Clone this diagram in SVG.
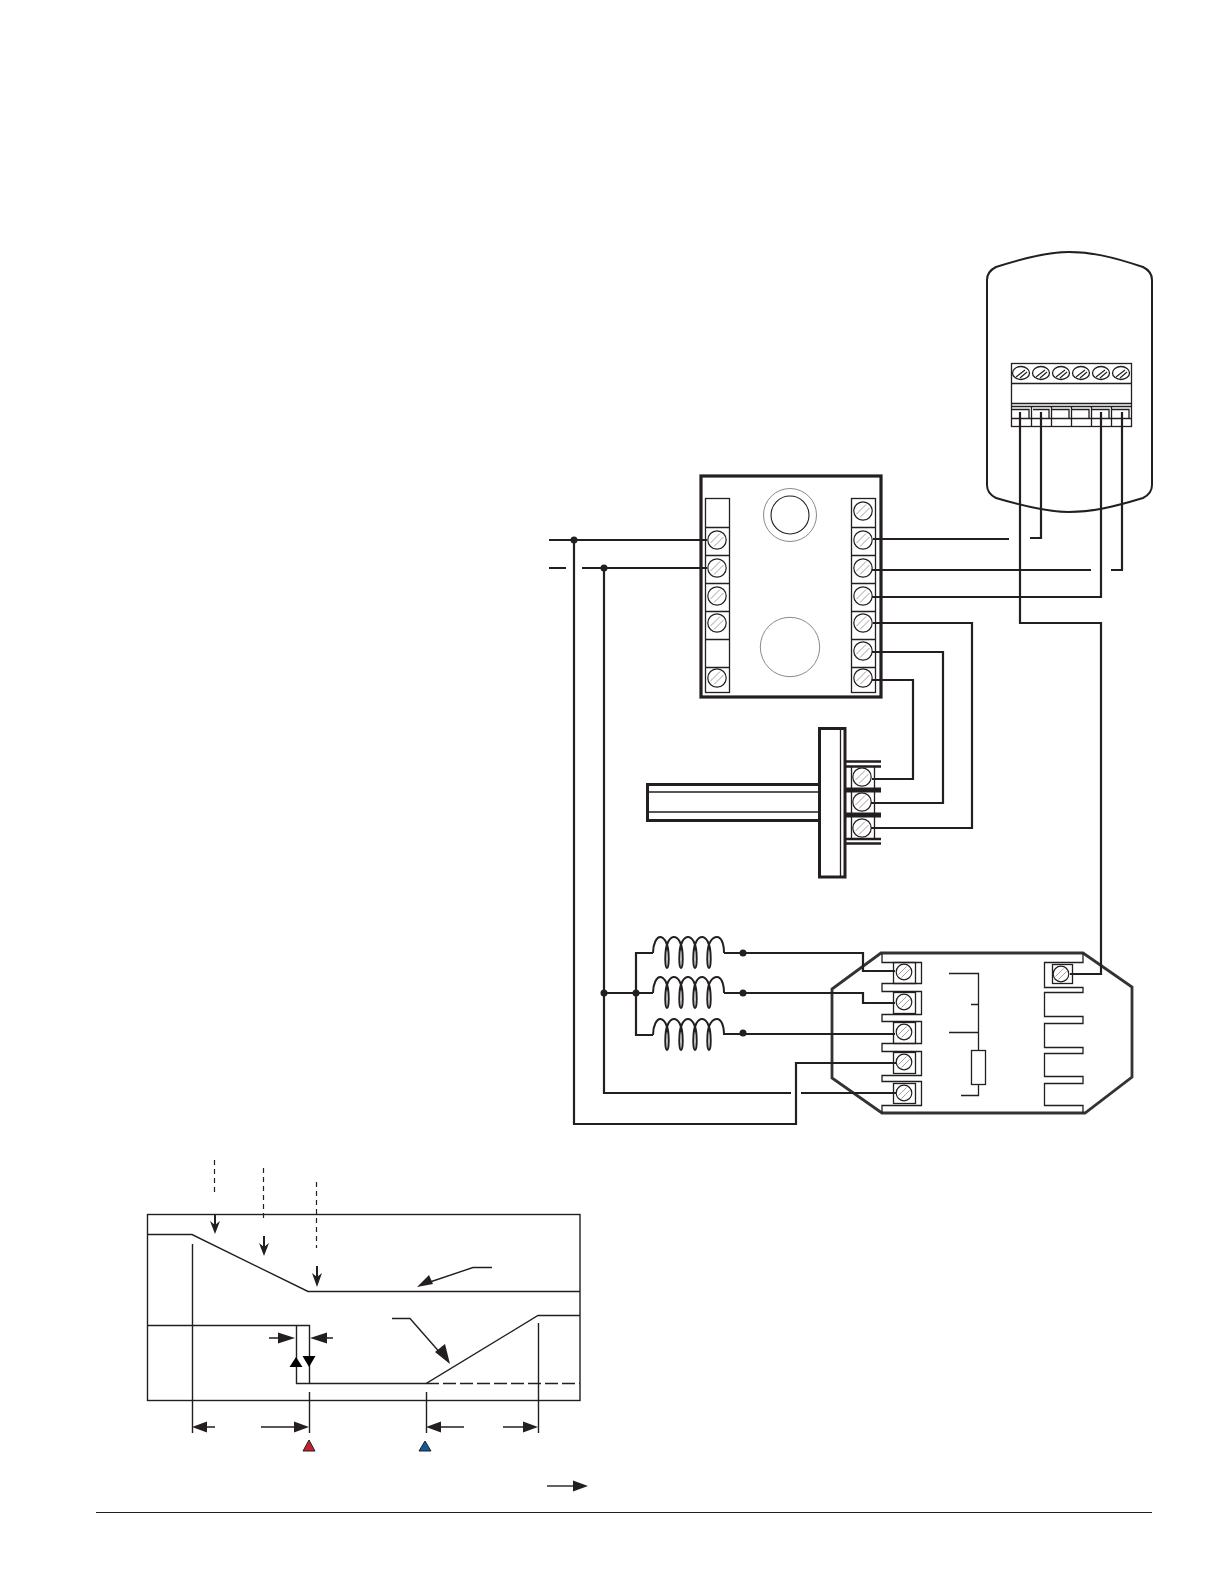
<svg xmlns="http://www.w3.org/2000/svg" width="1224" height="1584" viewBox="0 0 1224 1584">
<style>
.w{fill:none;stroke:#231f20;stroke-width:2.2}
.t{fill:none;stroke:#231f20;stroke-width:1.3}
.g{fill:none;stroke:#231f20;stroke-width:1.6}
.d{fill:none;stroke:#231f20;stroke-width:1.2;stroke-dasharray:5 4}
.a{fill:none;stroke:#231f20;stroke-width:1.4}
.hd{fill:#231f20;stroke:none}
.dot{fill:#231f20}
</style>
<defs>
<g id="s"><circle r="9.2" fill="#fff" stroke="#231f20" stroke-width="1.2"/><path d="M-6.500 3L3 -6.500M-3 6.500L6.500 -3" fill="none" stroke="#777" stroke-width=".7"/></g>
<g id="r"><circle r="7.800" fill="#fff" stroke="#231f20" stroke-width="1.2"/><path d="M-5.500 2.500L2.500 -5.500M-2.500 5.500L5.500 -2.500" fill="none" stroke="#777" stroke-width=".7"/></g>
<g id="s2"><ellipse rx="8.500" ry="6.500" fill="#fff" stroke="#231f20" stroke-width="1.300"/><path d="M-5 4L4 -3M-1 5L6 -1" fill="none" stroke="#231f20" stroke-width="1.100"/></g>
<path id="coil" d="M0 0C0 -10 4 -16 7 -16C11 -16 15 -10 15.500 0C16 8 15.500 15 14 15C12.500 15 12 8 12.500 0C13 -10 17 -16 21 -16C25 -16 29 -10 29.500 0C30 8 29.500 15 28 15C26.500 15 26 8 26.500 0C27 -10 31 -16 35 -16C39 -16 43 -10 43.500 0C44 8 43.500 15 42 15C40.500 15 40 8 40.500 0C41 -10 45 -16 49 -16C53 -16 57 -10 57.500 0C58 8 57.500 15 56 15C54.500 15 54 8 54.500 0C55 -10 59 -16 64 -16C68 -16 71 -10 71 0" fill="none" stroke="#231f20" stroke-width="2"/>
</defs>
<rect width="1224" height="1584" fill="#fff"/>

<g id="wall-module">
<path d="M987 280C987 274 990 270 996 267C1030 256 1050 252 1069 252C1090 252 1110 256 1143 267C1149 270 1152 274 1152 280V485C1152 491 1149 495 1143 498C1110 508 1090 512 1069 512C1050 512 1030 508 996 498C990 495 987 491 987 485Z" fill="none" stroke="#231f20" stroke-width="2"/>
<rect class="t" x="1011.500" y="363.500" width="120" height="63"/>
<path class="t" d="M1011 383.500H1131M1011 403.500H1131M1011 406.500H1131M1011 418.500H1131"/>
<use href="#s2" x="1021" y="373"/><use href="#s2" x="1041" y="373"/><use href="#s2" x="1061" y="373"/><use href="#s2" x="1081" y="373"/><use href="#s2" x="1101" y="373"/><use href="#s2" x="1121" y="373"/>
<path class="t" d="M1012 409.500H1029V418M1033 409.500H1049V418M1052 409.500H1069V418M1072 409.500H1089V418M1092 409.500H1109V418M1112 409.500H1129V418M1031.500 406V426M1051.500 406V426M1071.500 406V426M1091.500 406V426M1111.500 406V426"/>
</g>

<g id="controller">
<rect x="701" y="476" width="180" height="221" fill="none" stroke="#231f20" stroke-width="3.200"/>
<rect class="t" x="705.500" y="498.500" width="24" height="194"/>
<path class="t" d="M705 527.500H729M705 555.500H729M705 583.500H729M705 611.500H729M705 639.500H729M705 667.500H729"/>
<rect class="t" x="851.500" y="498.500" width="24" height="194"/>
<path class="t" d="M851 527.500H875M851 555.500H875M851 583.500H875M851 611.500H875M851 639.500H875M851 667.500H875"/>
<use href="#s" x="717" y="540"/><use href="#s" x="717" y="568"/><use href="#s" x="717" y="596"/><use href="#s" x="717" y="623"/><use href="#s" x="717" y="678"/>
<use href="#s" x="863" y="511"/><use href="#s" x="863" y="540"/><use href="#s" x="863" y="568"/><use href="#s" x="863" y="596"/><use href="#s" x="863" y="623"/><use href="#s" x="863" y="651"/><use href="#s" x="863" y="678"/>
<circle cx="790" cy="515" r="26.500" fill="none" stroke="#8a8a8a" stroke-width="1"/>
<circle cx="790" cy="515" r="19" fill="none" stroke="#231f20" stroke-width="1.100"/>
<circle cx="790" cy="647" r="29.700" fill="none" stroke="#8a8a8a" stroke-width="1"/>
</g>

<g id="sensor">
<rect x="647.500" y="784.500" width="172" height="36" fill="none" stroke="#231f20" stroke-width="3"/>
<path class="g" d="M648 792H819M648 812H819"/>
<rect x="819.500" y="728.500" width="25.500" height="148.500" fill="#fff" stroke="#231f20" stroke-width="3"/>
<path class="t" d="M840.500 729V876"/>
<path d="M846 761.500H881M846 766.500H881M846 839H881M846 843.500H881" stroke="#231f20" stroke-width="2.500" fill="none"/>
<path d="M846 790H881M846 815H881" stroke="#231f20" stroke-width="5" fill="none"/>
<path class="t" d="M851.500 767V840M874.500 767V840"/>
<use href="#s" x="862" y="777"/><use href="#s" x="862" y="802"/><use href="#s" x="862" y="828"/>
</g>

<g id="coils">
<use href="#coil" x="653" y="953"/>
<use href="#coil" x="653" y="993"/>
<use href="#coil" x="653" y="1035"/>
</g>

<g id="relay">
<path d="M881 953H1083L1132 987V1077L1085 1113H882L832 1078V989Z" fill="none" stroke="#333" stroke-width="2.800"/>
<path class="t" d="M882 953V962.500H921.500V983.500H882V991.500H921.500V1014.500H882V1021.500H921.500V1043.500H882V1051.500H921.500V1075.500H882V1081.500H921.500V1105.500H882V1113"/>
<path class="t" d="M1083 953V962.500H1044.500V987.500H1083V992.500H1044.500V1016.500H1083V1023.500H1044.500V1047.500H1083V1053.500H1044.500V1076.500H1083V1083.500H1044.500V1105.500H1083V1113"/>
<rect class="t" x="893.500" y="962.500" width="22" height="21"/><rect class="t" x="893.500" y="992.500" width="22" height="21"/><rect class="t" x="893.500" y="1022.500" width="22" height="21"/><rect class="t" x="893.500" y="1052.500" width="22" height="21"/><rect class="t" x="893.500" y="1083.500" width="22" height="20"/>
<rect class="t" x="1052.500" y="964.500" width="20" height="19"/>
<use href="#r" x="904" y="972"/><use href="#r" x="904" y="1002"/><use href="#r" x="904" y="1032"/><use href="#r" x="904" y="1062"/><use href="#r" x="904" y="1093"/><use href="#r" x="1061" y="974"/>
<path class="t" d="M949 973.500H978.500V1050M971 1004.500H978M949 1032.500H978M978.500 1084V1095.500H961"/>
<rect class="t" x="971.500" y="1050.500" width="14" height="34"/>
</g>

<g id="connectors">
<path class="w" d="M549 540H707M549 568H566M582 568H707"/>
<path class="w" d="M574 540V1124H796V1063H896"/>
<path class="w" d="M604 568V1093H791M801 1093H896"/>
<path class="w" d="M604 993H653M636 993V953H653M636 993V1035H653"/>
<path class="w" d="M724 953H863V971H895M724 993H863V1003H895M724 1034H895"/>
<path class="w" d="M873 539H1009M1030 538H1041V412M872 570H1091M1111 570H1122V412M872 597H1101V412"/>
<path class="w" d="M1020 412V623H1101V974H1070"/>
<path class="w" d="M873 623H972V828H871M872 652H943V803H871M872 680H913V779H872"/>
<circle class="dot" cx="574" cy="540" r="3.500"/><circle class="dot" cx="604" cy="568" r="3.500"/>
<circle class="dot" cx="604" cy="993" r="3.500"/><circle class="dot" cx="636" cy="993" r="3.500"/>
<circle class="dot" cx="743" cy="953" r="3.500"/><circle class="dot" cx="743" cy="993" r="3.500"/><circle class="dot" cx="743" cy="1033" r="3.500"/>
</g>

<g id="chart">
<rect x="147.500" y="1214.500" width="432.500" height="186" fill="none" stroke="#231f20" stroke-width="1.400"/>
<path class="a" d="M147 1234.500H192L308 1291.500H580"/>
<path class="a" d="M147 1325.500H309.500V1383M296.500 1325V1383.500H426L538 1315.500H580"/>
<path class="a" d="M426 1383.500H580" stroke-dasharray="13 4"/>
<path class="a" d="M192.500 1244V1433M309.500 1392V1433M426.500 1392V1433M538.500 1323V1433"/>
<path class="d" d="M214.500 1160V1193M263.500 1168V1218M316.500 1182V1248"/>
<path d="M215 1214V1225M264 1236V1248M317 1266V1278" stroke="#231f20" stroke-width="2" fill="none"/>
<path class="hd" d="M210 1221L215 1225L220 1221L215 1234ZM259 1243L264 1247L269 1243L264 1256ZM312 1273L317 1277L322 1273L317 1287Z"/>
<path class="a" d="M269 1338H282M333 1338H320M207 1427H215M261 1427H296M441 1427H464M503 1427H525"/>
<path class="hd" d="M295 1338L278 1332.500V1343.500ZM310 1338L327 1332.500V1343.500ZM192 1427L207 1421.500V1432.500ZM309 1427L294 1421.500V1432.500ZM426 1427L441 1421.500V1432.500ZM538 1427L523 1421.500V1432.500Z"/>
<path d="M296 1357L302.500 1367H289.500ZM309 1367L302.500 1356H315.500Z" fill="#000"/>
<path d="M309 1440L315 1451H303Z" fill="#c8202f" stroke="#231f20" stroke-width="1"/>
<path d="M425 1441L431 1451H419Z" fill="#0f5a9c" stroke="#231f20" stroke-width="1"/>
<path class="a" d="M492 1267.500H473L430 1282M392 1318.500H410L442 1355"/>
<path class="hd" d="M417 1287L429 1275L433 1284ZM450 1364L435 1352L445 1344Z"/>
<path class="a" d="M547 1486H573"/>
<path class="hd" d="M588 1486L573 1480.500V1491.500Z"/>
</g>

<g id="footer"><path d="M96 1512.500H1152" stroke="#231f20" stroke-width="1.200" fill="none"/></g>
</svg>
